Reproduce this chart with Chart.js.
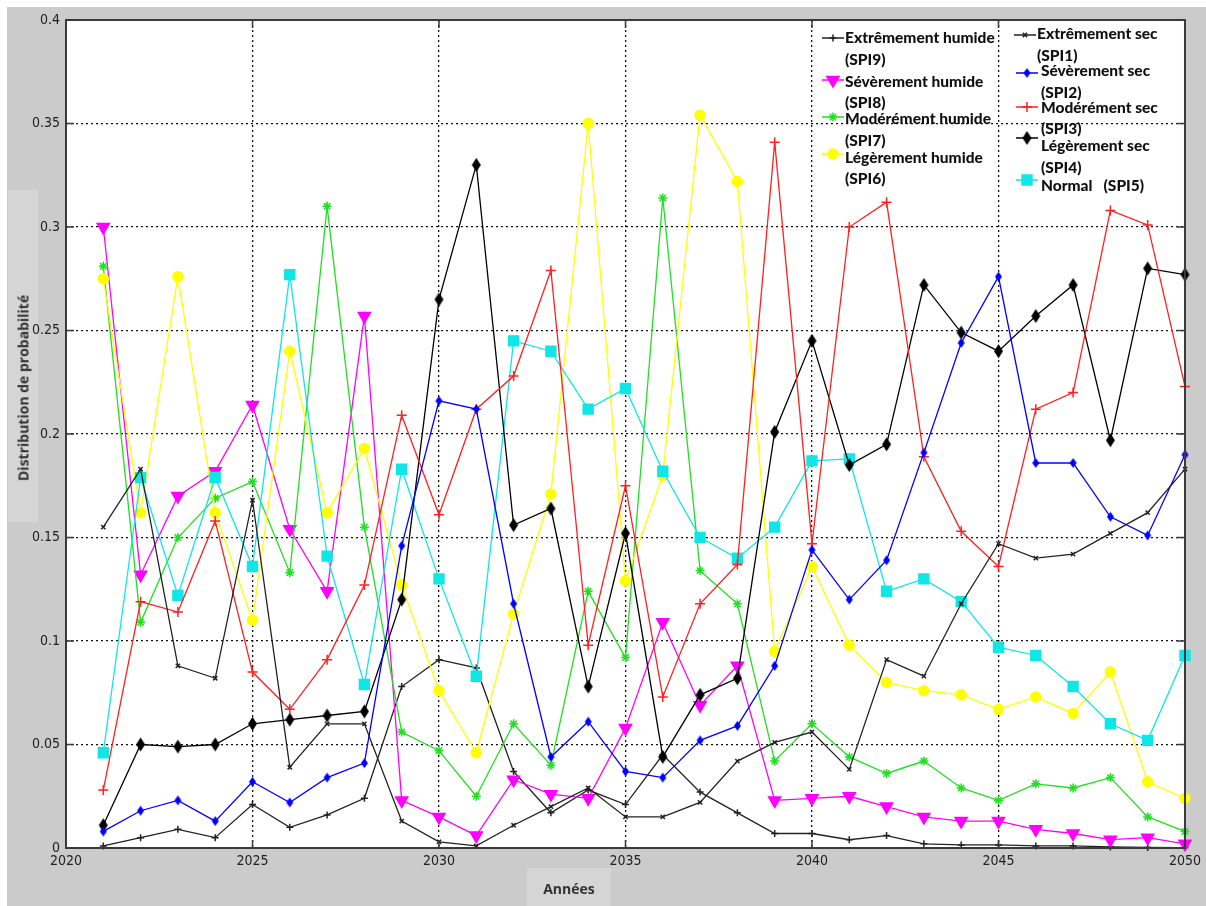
<!DOCTYPE html>
<html lang="fr">
<head>
<meta charset="utf-8">
<title>Distribution de probabilité SPI 2021-2050</title>
<script src="https://cdn.jsdelivr.net/npm/chart.js@4.4.1/dist/chart.umd.min.js"></script>
<style>
  body { margin: 0; background: #ffffff; width: 1206px; height: 906px; overflow: hidden; position: relative; }
  #fond { position: absolute; left: 7px; top: 7px; width: 1199px; height: 899px; background: #cbcbcb; }
  #graphique { position: absolute; left: 0; top: 0; }
  .boite-titre { position: absolute; background: #d5d5d5; }
  .titre-axe { position: absolute; font-family: "Open Sans", "DejaVu Sans", sans-serif; font-weight: bold; font-size: 14px; color: #333; white-space: nowrap; }
  .legende { position: absolute; font-family: Lato, "Open Sans", sans-serif; font-weight: 900; font-size: 15.5px; color: #111; white-space: pre; line-height: 20px; }
</style>
</head>
<body>
<div id="fond"></div>
<div class="boite-titre" style="left:8px; top:190px; width:30px; height:332px;"></div>
<div class="boite-titre" style="left:527px; top:868px; width:84px; height:38px;"></div>
<canvas id="graphique" width="1206" height="906"></canvas>
<div class="titre-axe" style="left:23px; top:388px; transform: translate(-50%, -50%) rotate(-90deg);">Distribution de probabilité</div>
<div class="titre-axe" style="left:569px; top:888px; transform: translate(-50%, -50%);">Années</div>
<div id="legende"></div>
<script>
// Années de projection
const annees = [2021, 2022, 2023, 2024, 2025, 2026, 2027, 2028, 2029, 2030,
  2031, 2032, 2033, 2034, 2035, 2036, 2037, 2038, 2039, 2040,
  2041, 2042, 2043, 2044, 2045, 2046, 2047, 2048, 2049, 2050];

// Graduations des axes
const ticksAnnees = [2020, 2025, 2030, 2035, 2040, 2045, 2050];
const ticksProba = [0, 0.05, 0.1, 0.15, 0.2, 0.25, 0.3, 0.35, 0.4];

// Probabilités (une valeur par année)
const extremementSec = [0.155, 0.183, 0.088, 0.082, 0.168, 0.039, 0.060, 0.060, 0.013, 0.003,
  0.001, 0.011, 0.020, 0.029, 0.015, 0.015, 0.022, 0.042, 0.051, 0.056,
  0.038, 0.091, 0.083, 0.118, 0.147, 0.140, 0.142, 0.152, 0.162, 0.183];
const severementSec = [0.008, 0.018, 0.023, 0.013, 0.032, 0.022, 0.034, 0.041, 0.146, 0.216,
  0.212, 0.118, 0.044, 0.061, 0.037, 0.034, 0.052, 0.059, 0.088, 0.144,
  0.120, 0.139, 0.191, 0.244, 0.276, 0.186, 0.186, 0.160, 0.151, 0.190];
const moderementSec = [0.028, 0.119, 0.114, 0.158, 0.085, 0.067, 0.091, 0.127, 0.209, 0.161,
  0.212, 0.228, 0.279, 0.098, 0.175, 0.073, 0.118, 0.137, 0.341, 0.147,
  0.300, 0.312, 0.189, 0.153, 0.136, 0.212, 0.220, 0.308, 0.301, 0.223];
const legerementSec = [0.011, 0.050, 0.049, 0.050, 0.060, 0.062, 0.064, 0.066, 0.120, 0.265,
  0.330, 0.156, 0.164, 0.078, 0.152, 0.044, 0.074, 0.082, 0.201, 0.245,
  0.185, 0.195, 0.272, 0.249, 0.240, 0.257, 0.272, 0.197, 0.280, 0.277];
const normal = [0.046, 0.179, 0.122, 0.179, 0.136, 0.277, 0.141, 0.079, 0.183, 0.130,
  0.083, 0.245, 0.240, 0.212, 0.222, 0.182, 0.150, 0.140, 0.155, 0.187,
  0.188, 0.124, 0.130, 0.119, 0.097, 0.093, 0.078, 0.060, 0.052, 0.093];
const legerementHumide = [0.275, 0.162, 0.276, 0.162, 0.110, 0.240, 0.162, 0.193, 0.127, 0.076,
  0.046, 0.113, 0.171, 0.350, 0.129, 0.180, 0.354, 0.322, 0.095, 0.136,
  0.098, 0.080, 0.076, 0.074, 0.067, 0.073, 0.065, 0.085, 0.032, 0.024];
const moderementHumide = [0.281, 0.109, 0.150, 0.169, 0.177, 0.133, 0.310, 0.155, 0.056, 0.047,
  0.025, 0.060, 0.040, 0.124, 0.092, 0.314, 0.134, 0.118, 0.042, 0.060,
  0.044, 0.036, 0.042, 0.029, 0.023, 0.031, 0.029, 0.034, 0.015, 0.008];
const severementHumide = [0.300, 0.132, 0.170, 0.182, 0.214, 0.154, 0.124, 0.257, 0.023, 0.015,
  0.006, 0.033, 0.026, 0.024, 0.058, 0.109, 0.069, 0.088, 0.023, 0.024,
  0.025, 0.020, 0.015, 0.013, 0.013, 0.009, 0.007, 0.004, 0.005, 0.002];
const extremementHumide = [0.001, 0.005, 0.009, 0.005, 0.021, 0.010, 0.016, 0.024, 0.078, 0.091,
  0.087, 0.037, 0.017, 0.028, 0.021, 0.045, 0.027, 0.017, 0.007, 0.007,
  0.004, 0.006, 0.002, 0.0015, 0.0015, 0.001, 0.001, 0.0005, 0.0003, 0.0002];

// Losange MATLAB (plus haut que large), dessiné une fois sur un petit canvas
function creerLosange(couleur, largeur, hauteur) {
  const c = document.createElement("canvas");
  c.width = largeur + 2;
  c.height = hauteur + 2;
  const g = c.getContext("2d");
  g.fillStyle = couleur;
  g.beginPath();
  g.moveTo(c.width / 2, 1);
  g.lineTo(c.width - 1, c.height / 2);
  g.lineTo(c.width / 2, c.height - 1);
  g.lineTo(1, c.height / 2);
  g.closePath();
  g.fill();
  return c;
}

// Séries : libellé, code SPI, couleur et marqueur (style MATLAB)
const series = [
  { nom: "Extrêmement sec", code: "(SPI1)", valeurs: extremementSec, couleur: "#222222", marqueur: "crossRot", rayon: 3, rotation: 0 },
  { nom: "Sévèrement sec", code: "(SPI2)", valeurs: severementSec, couleur: "#0000ff", marqueur: creerLosange("#0000ff", 7, 10), rayon: 5, rotation: 0 },
  { nom: "Modérément sec", code: "(SPI3)", valeurs: moderementSec, couleur: "#ff2020", marqueur: "cross", rayon: 5, rotation: 0 },
  { nom: "Légèrement sec", code: "(SPI4)", valeurs: legerementSec, couleur: "#000000", marqueur: creerLosange("#000000", 9, 14), rayon: 7, rotation: 0 },
  { nom: "Normal", code: "(SPI5)", valeurs: normal, couleur: "#10e6e6", marqueur: "rect", rayon: 7, rotation: 0 },
  { nom: "Légèrement humide", code: "(SPI6)", valeurs: legerementHumide, couleur: "#ffff00", marqueur: "circle", rayon: 5, rotation: 0 },
  { nom: "Modérément humide", code: "(SPI7)", valeurs: moderementHumide, couleur: "#20e020", marqueur: "star", rayon: 4.5, rotation: 0 },
  { nom: "Sévèrement humide", code: "(SPI8)", valeurs: severementHumide, couleur: "#ff00ff", marqueur: "triangle", rayon: 7, rotation: 180 },
  { nom: "Extrêmement humide", code: "(SPI9)", valeurs: extremementHumide, couleur: "#222222", marqueur: "cross", rayon: 3.5, rotation: 0 },
];

// Emplacement des entrées de la légende (deux colonnes, texte sur deux lignes)
const legendePositions = {
  "(SPI9)": { xm: 833, ym: 38, xt: 845, y1: 37, y2: 59 },
  "(SPI8)": { xm: 833, ym: 80, xt: 845, y1: 81, y2: 102 },
  "(SPI7)": { xm: 833, ym: 117, xt: 845, y1: 118, y2: 140 },
  "(SPI6)": { xm: 833, ym: 154, xt: 845, y1: 157, y2: 178 },
  "(SPI1)": { xm: 1025, ym: 35, xt: 1037, y1: 33, y2: 55 },
  "(SPI2)": { xm: 1027, ym: 73, xt: 1041, y1: 70, y2: 92 },
  "(SPI3)": { xm: 1027, ym: 107, xt: 1041, y1: 107, y2: 128 },
  "(SPI4)": { xm: 1027, ym: 138, xt: 1041, y1: 145, y2: 167 },
  "(SPI5)": { xm: 1027, ym: 180, xt: 1041, y1: 185, y2: null },
};

function formaterProba(v) {
  return String(Number(v.toFixed(2)));
}

// Construit la légende HTML
function construireLegende() {
  const conteneur = document.getElementById("legende");
  series.forEach((s) => {
    const p = legendePositions[s.code];
    const lignes = p.y2 === null ? [[s.nom + "   " + s.code, p.y1]] : [[s.nom, p.y1], [s.code, p.y2]];
    lignes.forEach(([texte, y]) => {
      const div = document.createElement("div");
      div.className = "legende";
      div.style.left = p.xt + "px";
      div.style.top = (y - 10) + "px";
      div.textContent = texte;
      conteneur.appendChild(div);
    });
  });
}

// Fond blanc, cadre, graduations internes et marqueurs de légende
const cadreMatlab = {
  id: "cadreMatlab",
  beforeDraw(chart) {
    const { ctx, chartArea: a } = chart;
    ctx.save();
    ctx.fillStyle = "#ffffff";
    ctx.fillRect(a.left, a.top, a.right - a.left, a.bottom - a.top);
    ctx.restore();
  },
  afterDraw(chart) {
    const { ctx, chartArea: a, scales } = chart;
    ctx.save();
    ctx.strokeStyle = "#3a3a3a";
    ctx.lineWidth = 2;
    ctx.strokeRect(a.left, a.top, a.right - a.left, a.bottom - a.top);
    ctx.lineWidth = 1.5;
    ctx.beginPath();
    ticksAnnees.forEach((t) => {
      const x = scales.x.getPixelForValue(t);
      ctx.moveTo(x, a.bottom); ctx.lineTo(x, a.bottom - 8);
      ctx.moveTo(x, a.top); ctx.lineTo(x, a.top + 8);
    });
    ticksProba.forEach((t) => {
      const y = scales.y.getPixelForValue(t);
      ctx.moveTo(a.left, y); ctx.lineTo(a.left + 8, y);
      ctx.moveTo(a.right, y); ctx.lineTo(a.right - 8, y);
    });
    ctx.stroke();

    // marqueurs de la légende
    series.forEach((s) => {
      const p = legendePositions[s.code];
      ctx.strokeStyle = s.couleur;
      ctx.fillStyle = s.couleur;
      ctx.lineWidth = 1.5;
      ctx.beginPath();
      ctx.moveTo(p.xm - 11, p.ym);
      ctx.lineTo(p.xm + 11, p.ym);
      ctx.stroke();
      Chart.helpers.drawPoint(ctx, {
        pointStyle: s.marqueur,
        radius: s.rayon,
        rotation: s.rotation,
        borderWidth: 1.5,
      }, p.xm, p.ym);
    });
    ctx.restore();
  },
};

function creerGraphique() {
  const datasets = series.map((s) => ({
    label: s.nom + " " + s.code,
    data: annees.map((a, i) => ({ x: a, y: s.valeurs[i] })),
    borderColor: s.couleur,
    backgroundColor: s.couleur,
    borderWidth: 1.3,
    pointStyle: s.marqueur,
    pointRadius: s.rayon,
    pointRotation: s.rotation,
    pointBorderWidth: 1.5,
    pointBorderColor: s.couleur,
    pointBackgroundColor: s.couleur,
    tension: 0,
    clip: false,
  }));

  const policeTicks = { family: "'DejaVu Sans Condensed', 'Liberation Sans', sans-serif", size: 14 };
  const ctx = document.getElementById("graphique");
  return new Chart(ctx, {
    type: "line",
    data: { datasets: datasets },
    options: {
      responsive: false,
      animation: false,
      layout: { padding: { left: 0, top: 20, right: 20, bottom: 0 } },
      plugins: {
        legend: { display: false },
        tooltip: { enabled: false },
      },
      scales: {
        x: {
          type: "linear",
          min: 2020,
          max: 2050,
          afterBuildTicks: (scale) => { scale.ticks = ticksAnnees.map((v) => ({ value: v })); },
          afterFit: (scale) => { scale.height = 58; },
          grid: { color: "#111111", lineWidth: 1.3, drawTicks: false },
          border: { display: false, dash: [2, 3] },
          ticks: {
            padding: 5,
            color: "#222222",
            font: policeTicks,
            callback: (v) => String(v),
          },
        },
        y: {
          type: "linear",
          min: 0,
          max: 0.4,
          afterBuildTicks: (scale) => { scale.ticks = ticksProba.map((v) => ({ value: v })); },
          afterFit: (scale) => { scale.width = 66; },
          grid: { color: "#111111", lineWidth: 1.3, drawTicks: false },
          border: { display: false, dash: [2, 3] },
          ticks: {
            padding: 6,
            color: "#222222",
            font: policeTicks,
            callback: (v) => formaterProba(v),
          },
        },
      },
    },
    plugins: [cadreMatlab],
  });
}

construireLegende();
creerGraphique();
</script>
</body>
</html>
